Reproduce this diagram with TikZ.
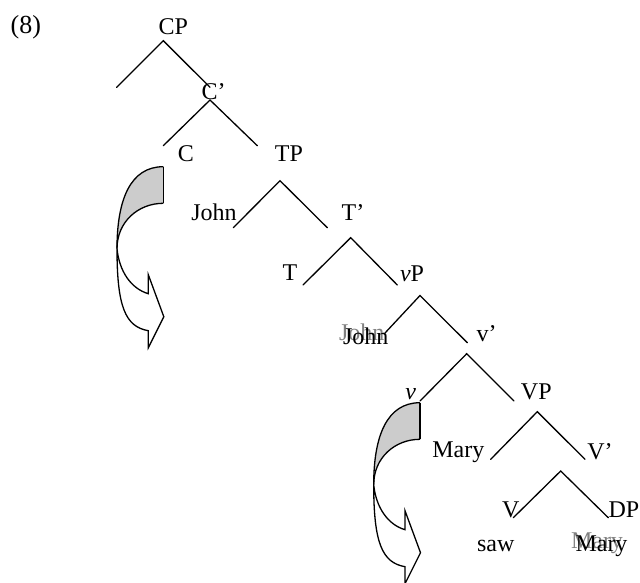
\documentclass[tikz,border=0pt]{standalone}
\usepackage{fontspec}
\setmainfont{Liberation Serif}
\begin{document}
\begin{tikzpicture}[x=1pt,y=-1pt,
  lbl/.style={font=\fontsize{24}{28}\selectfont, inner sep=0pt, anchor=base},
  ghost/.style={lbl, text=black!50},
  branch/.style={line width=1.3pt, line cap=round},
  arrowline/.style={line width=1.3pt, line join=miter},
  curvearrow/.pic={
    \fill[black!20] (0,0) .. controls (-33,0) and (-46.3,33) .. (-46.3,82)
      .. controls (-46.3,55) and (-25,36.6) .. (0,36.6) -- cycle;
    \draw[arrowline] (0,0) -- (0,36.6);
    \draw[arrowline] (0,0) .. controls (-33,0) and (-46.3,33) .. (-46.3,82)
      .. controls (-46.3,140) and (-38,160) .. (-15,164)
      -- (-15,181) -- (0.5,150) -- (-15,108) -- (-15,127)
      .. controls (-32,122) and (-44,105) .. (-46.3,82);
    \draw[arrowline] (-46.3,82) .. controls (-46.3,55) and (-25,36.6) .. (0,36.6);
  }]
\useasboundingbox (0,0) rectangle (640,583);

% labels
\node[lbl, font=\fontsize{26}{30}\selectfont] (ex) at (25.8,33.4) {(8)};
\node[lbl] (cp) at (173.3,35) {CP};
\node[lbl] (cbar) at (213.7,100) {C’};
\node[lbl] (c) at (186,161.7) {C};
\node[lbl] (tp) at (289,161.7) {TP};
\node[lbl] (john1) at (214,220) {John};
\node[lbl] (tbar) at (353,220) {T’};
\node[lbl] (t) at (290,280) {T};
\node[lbl] (vp) at (412,281.7) {\textit{v}P};
\node[ghost] (john2g) at (361.8,340.5) {John};
\node[lbl] (john2) at (365.8,344.5) {John};
\node[lbl] (vbar) at (486.7,341) {v’};
\node[lbl] (v) at (410.8,399.3) {\textit{v}};
\node[lbl] (bigvp) at (536.3,399.3) {VP};
\node[lbl] (mary1) at (458.3,457.7) {Mary};
\node[lbl] (vbarbig) at (600,459.3) {V’};
\node[lbl] (bigv) at (510.8,517.7) {V};
\node[lbl] (dp) at (624,517.7) {DP};
\node[lbl] (saw) at (495.8,551.7) {saw};
\node[ghost] (mary2g) at (597,548.5) {Mary};
\node[lbl] (mary2) at (601.5,551.7) {Mary};

% branch points
\coordinate (cpA) at (163.3,40.7);
\coordinate (cpL) at (116.7,87.3);
\coordinate (cpR) at (210,87.3);
\coordinate (cbA) at (210,100);
\coordinate (cbL) at (163.3,145.7);
\coordinate (cbR) at (257.3,145.7);
\coordinate (tpA) at (280,180.7);
\coordinate (tpL) at (233.3,227.7);
\coordinate (tpR) at (327.3,227.7);
\coordinate (tbA) at (350.7,237.7);
\coordinate (tbL) at (303,285);
\coordinate (tbR) at (397.3,285);
\coordinate (vpA) at (420,295.5);
\coordinate (vpL) at (385,333);
\coordinate (vpR) at (467.3,342.7);
\coordinate (vbA) at (466.7,353.7);
\coordinate (vbL) at (420,401);
\coordinate (vbR) at (514,401);
\coordinate (VPA) at (537.3,411.7);
\coordinate (VPL) at (490.7,459.3);
\coordinate (VPR) at (585,459.3);
\coordinate (VbA) at (560.7,471);
\coordinate (VbL) at (513.3,517.7);
\coordinate (VbR) at (608.3,517.7);

\draw[branch] (cpL) -- (cpA) -- (cpR);
\draw[branch] (cbL) -- (cbA) -- (cbR);
\draw[branch] (tpL) -- (tpA) -- (tpR);
\draw[branch] (tbL) -- (tbA) -- (tbR);
\draw[branch] (vpL) -- (vpA) -- (vpR);
\draw[branch] (vbL) -- (vbA) -- (vbR);
\draw[branch] (VPL) -- (VPA) -- (VPR);
\draw[branch] (VbL) -- (VbA) -- (VbR);

% movement arrows
\pic at (163.3,166.7) {curvearrow};
\pic at (420,402.7) {curvearrow};
\end{tikzpicture}
\end{document}
